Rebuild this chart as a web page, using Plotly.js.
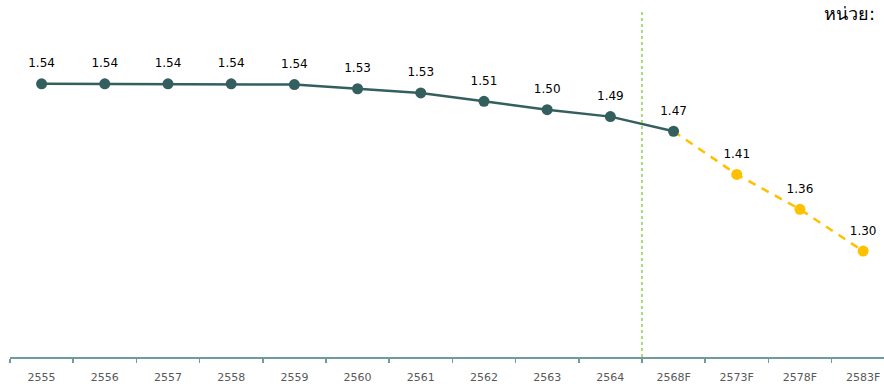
<!DOCTYPE html>
<html><head><meta charset="utf-8">
<script src="https://cdn.plot.ly/plotly-3.0.1.min.js"></script>
<style>html,body{margin:0;padding:0;background:#fff;}#chart{width:884px;height:384px;}</style>
</head><body><div id="chart"></div>
<script>
const categories = ['2555','2556','2557','2558','2559','2560','2561','2562','2563','2564','2568F','2573F','2578F','2583F'];
const actualValues = [1.54,1.54,1.54,1.54,1.539,1.533,1.527,1.515,1.503,1.493,1.472];
const actualLabels = ['1.54','1.54','1.54','1.54','1.54','1.53','1.53','1.51','1.50','1.49','1.47'];
const forecastCats = ['2568F','2573F','2578F','2583F'];
const forecastValues = [1.472,1.41,1.36,1.30];
const forecastLabels = ['','1.41','1.36','1.30'];
const unitText = 'หน่วย:';

const actualCats = categories.slice(0, actualValues.length);
const font = 'Tahoma, "DejaVu Sans", Verdana, sans-serif';
const labelFont = {family: font, size: 12, color: '#000'};

const traces = [
  {
    x: forecastCats, y: forecastValues, type: 'scatter', mode: 'lines+markers',
    line: {color: '#FFC000', width: 2.5, dash: '8px,7px'},
    marker: {color: ['rgba(0,0,0,0)','#FFC000','#FFC000','#FFC000'], size: 11},
    hoverinfo: 'skip', cliponaxis: false
  },
  {
    x: actualCats, y: actualValues, type: 'scatter', mode: 'lines+markers',
    line: {color: '#335F5F', width: 2.5},
    marker: {color: '#335F5F', size: 11},
    hoverinfo: 'skip', cliponaxis: false
  },
  {
    x: actualCats, y: actualValues, type: 'scatter', mode: 'markers+text',
    marker: {size: 20, opacity: 0},
    text: actualLabels, textposition: 'top center', textfont: labelFont,
    hoverinfo: 'skip', cliponaxis: false
  },
  {
    x: forecastCats, y: forecastValues, type: 'scatter', mode: 'markers+text',
    marker: {size: 20, opacity: 0},
    text: forecastLabels, textposition: 'top center', textfont: labelFont,
    hoverinfo: 'skip', cliponaxis: false
  }
];

const layout = {
  width: 884, height: 384,
  margin: {l: 10, r: 0, t: 10, b: 27},
  paper_bgcolor: '#fff', plot_bgcolor: '#fff',
  showlegend: false,
  xaxis: {
    type: 'category', categoryorder: 'array', categoryarray: categories,
    range: [-0.5, 13.33],
    showgrid: false, zeroline: false,
    showline: true, linecolor: '#6E9C9C', linewidth: 1.5,
    ticks: 'outside', ticklen: 4, tickcolor: '#6E9C9C', tickwidth: 1.5,
    tickson: 'boundaries', ticklabelstandoff: 9,
    tickfont: {family: font, size: 11, color: '#595959'},
    fixedrange: true
  },
  yaxis: {
    range: [1.148, 1.646], visible: false, showgrid: false, zeroline: false, fixedrange: true
  },
  shapes: [{
    type: 'line', xref: 'x', yref: 'paper', x0: 9.5, x1: 9.5, y0: 0, y1: 1,
    line: {color: '#8DD14F', width: 1.5, dash: 'dot'}
  }],
  annotations: [{
    text: unitText, xref: 'paper', yref: 'paper', x: 0.929, y: 1.025,
    xanchor: 'left', yanchor: 'top', showarrow: false,
    font: {family: 'Tahoma, "DejaVu Sans", sans-serif', size: 18, color: '#000'}
  }]
};

Plotly.newPlot('chart', traces, layout, {displayModeBar: false, staticPlot: true});
</script></body></html>
